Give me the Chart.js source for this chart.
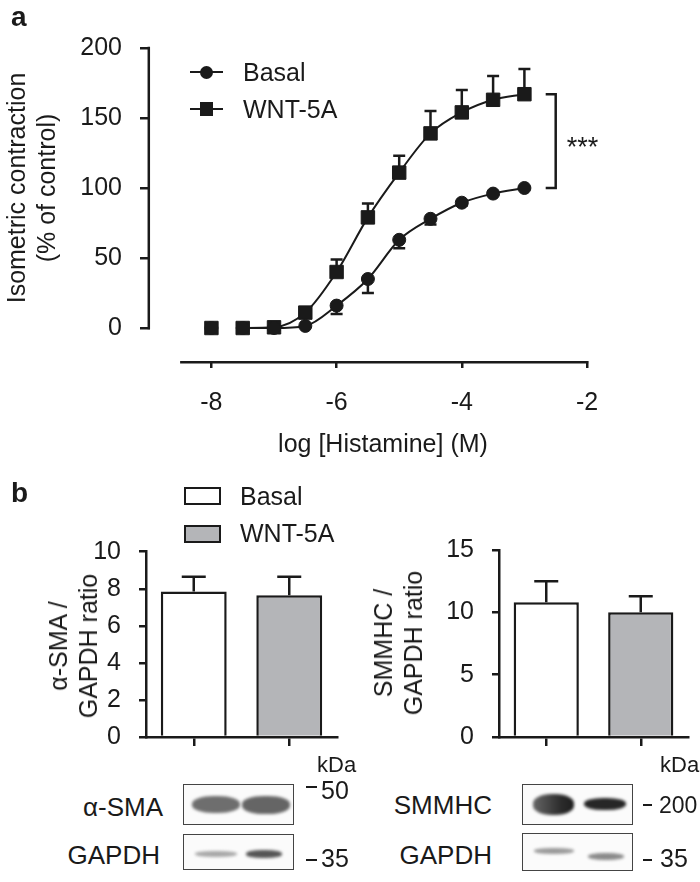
<!DOCTYPE html>
<html>
<head>
<meta charset="utf-8">
<script src="https://cdn.jsdelivr.net/npm/chart.js@4/dist/chart.umd.min.js"></script>
<style>
  body { margin: 0; background: #fff; }
  #page { position: relative; width: 700px; height: 882px; overflow: hidden;
          font-family: "Liberation Sans", Arial, sans-serif; color: #1a1a1a; }
  canvas { position: absolute; }
  .t { position: absolute; font-size: 25px; line-height: 30px; white-space: nowrap; }
  .s { position: absolute; font-size: 22px; line-height: 30px; white-space: nowrap; }
  .rot { position: absolute; font-size: 25px; line-height: 30px; white-space: nowrap; text-align: center;
         transform: translate(-50%, -50%) rotate(-90deg); }
  .bold { font-weight: bold; font-size: 28px; line-height: 28px; }
  .ln { position: absolute; background: #1a1a1a; }
  .box { position: absolute; box-sizing: border-box; border: 2.5px solid #1a1a1a; }
  .blot { position: absolute; box-sizing: border-box; border: 1.5px solid #444; background: #fbfbfb; overflow: hidden; }
  .band { position: absolute; border-radius: 45%; filter: blur(1.6px); }
  .lab { position: absolute; font-size: 26px; line-height: 30px; white-space: nowrap; text-align: right; }
</style>
</head>
<body>
<div id="page">
  <canvas id="curve" width="700" height="470" style="left:0;top:0"></canvas>
  <canvas id="smaBars" width="350" height="300" style="left:0;top:470px"></canvas>
  <canvas id="smmhcBars" width="350" height="300" style="left:350px;top:470px"></canvas>

  <!-- panel a -->
  <div class="t bold" style="left:11px;top:3px">a</div>
  <div class="ln" style="left:190px;top:70.8px;width:33px;height:2.5px"></div>
  <div style="position:absolute;left:200px;top:65.5px;width:13px;height:13px;border-radius:50%;background:#1a1a1a"></div>
  <div class="t" style="left:243px;top:57px">Basal</div>
  <div class="ln" style="left:190px;top:107.8px;width:33px;height:2.5px"></div>
  <div style="position:absolute;left:199.8px;top:102.3px;width:13.5px;height:13.5px;background:#1a1a1a"></div>
  <div class="t" style="left:243px;top:94px">WNT-5A</div>
  <div class="rot" style="left:31px;top:188px">Isometric contraction<br>(% of control)</div>
  <div class="t" style="left:383px;top:428px;transform:translateX(-50%)">log [Histamine] (M)</div>

  <!-- panel b -->
  <div class="t bold" style="left:11px;top:479px">b</div>
  <div class="box" style="left:184px;top:487px;width:37px;height:18px;background:#fff"></div>
  <div class="t" style="left:240px;top:481px">Basal</div>
  <div class="box" style="left:184px;top:525px;width:37px;height:18px;background:#b4b5b8"></div>
  <div class="t" style="left:240px;top:518px">WNT-5A</div>
  <div class="rot" style="left:73px;top:646px">α-SMA /<br>GAPDH ratio</div>
  <div class="rot" style="left:398px;top:643px">SMMHC /<br>GAPDH ratio</div>

  <!-- blots, left -->
  <div class="s" style="left:317px;top:750px">kDa</div>
  <div class="lab" style="right:537px;top:792px">α-SMA</div>
  <div class="lab" style="right:540px;top:840px">GAPDH</div>
  <div class="blot" style="left:183px;top:784px;width:111px;height:41px">
    <div class="band" style="left:8px;top:11px;width:48px;height:17px;background:#6e6e6e"></div>
    <div class="band" style="left:58px;top:11px;width:48px;height:18px;background:#656565"></div>
  </div>
  <div class="blot" style="left:183px;top:834px;width:111px;height:36px">
    <div class="band" style="left:11px;top:16px;width:42px;height:6px;background:#a8a8a8"></div>
    <div class="band" style="left:62px;top:15px;width:36px;height:8px;background:#555"></div>
  </div>
  <div class="ln" style="left:306px;top:786px;width:11px;height:2px"></div>
  <div class="t" style="left:321px;top:775px">50</div>
  <div class="ln" style="left:306px;top:859px;width:11px;height:2px"></div>
  <div class="t" style="left:321px;top:843px">35</div>

  <!-- blots, right -->
  <div class="s" style="left:660px;top:750px">kDa</div>
  <div class="lab" style="right:208px;top:790px">SMMHC</div>
  <div class="lab" style="right:208px;top:840px">GAPDH</div>
  <div class="blot" style="left:522px;top:784px;width:111px;height:41px">
    <div class="band" style="left:10px;top:9px;width:41px;height:21px;background:linear-gradient(90deg,#666,#2a2a2a 70%,#1e1e1e)"></div>
    <div class="band" style="left:61px;top:13px;width:42px;height:12px;background:#262626"></div>
  </div>
  <div class="blot" style="left:522px;top:833px;width:111px;height:38px">
    <div class="band" style="left:11px;top:14px;width:40px;height:6px;background:#9a9a9a"></div>
    <div class="band" style="left:65px;top:19px;width:36px;height:7px;background:#8a8a8a"></div>
  </div>
  <div class="ln" style="left:643px;top:804px;width:9px;height:2px"></div>
  <div class="t" style="left:659px;top:790px;font-size:23px">200</div>
  <div class="ln" style="left:643px;top:859px;width:9px;height:2px"></div>
  <div class="t" style="left:660px;top:843px">35</div>
</div>

<script>
// panel a: histamine concentration-response
const logHistamine = [-8, -7.5, -7, -6.5, -6, -5.5, -5, -4.5, -4, -3.5, -3];
const basalContraction = [0, 0, 0, 1.5, 16, 35, 63, 78, 89.5, 96, 100];
const basalSem = [0, 0, 0, 0, 6, 10, 6, 4, 2, 1, 1];
const wntContraction = [0, 0, 0.5, 11, 40, 79, 111, 139, 154, 163, 167];
const wntSem = [0, 0, 0, 3, 9, 10, 12, 16, 16, 17, 18];
const xTicks = [-8, -6, -4, -2];
const yTicks = [0, 50, 100, 150, 200];

// panel b: western blot quantification
const groups = ["Basal", "WNT-5A"];
const smaRatio = [7.85, 7.65];
const smaSem = [0.8, 1.0];
const smmhcRatio = [10.8, 10.0];
const smmhcSem = [1.7, 1.3];

const ink = "#1a1a1a";
const font = { family: "'Liberation Sans', Arial, sans-serif", size: 25 };
const yScaleWidth = 85;

function pts(ys) {
  return logHistamine.map((x, i) => ({ x: x, y: ys[i] }));
}

// error bars (one-sided, direction per dataset)
const errorBars = {
  id: "errorBars",
  beforeDatasetsDraw(chart, args, opts) { if (!opts.after) drawErrors(chart, opts); },
  afterDatasetsDraw(chart, args, opts) { if (opts.after) drawErrors(chart, opts); }
};
function drawErrors(chart, opts) {
  const ctx = chart.ctx;
  const y = chart.scales.y;
  ctx.save();
  ctx.strokeStyle = ink;
  ctx.lineWidth = 2.5;
  chart.data.datasets.forEach((ds, i) => {
    if (!ds.errors) return;
    const meta = chart.getDatasetMeta(i);
    meta.data.forEach((el, j) => {
      const err = ds.errors[j];
      if (!err) return;
      const v = typeof ds.data[j] === "object" ? ds.data[j].y : ds.data[j];
      const end = y.getPixelForValue(v + ds.errorDir * err);
      ctx.beginPath();
      ctx.moveTo(el.x, el.y);
      ctx.lineTo(el.x, end);
      ctx.moveTo(el.x - opts.cap / 2, end);
      ctx.lineTo(el.x + opts.cap / 2, end);
      ctx.stroke();
    });
  });
  ctx.restore();
}

// Prism-style detached axes, bracket and significance stars
const curveDecor = {
  id: "curveDecor",
  beforeDatasetsDraw(chart) {
    const { ctx, chartArea, scales: { x, y } } = chart;
    ctx.save();
    ctx.strokeStyle = ink;
    ctx.lineWidth = 2.5;
    ctx.beginPath();
    ctx.moveTo(chartArea.left - 1.2, y.getPixelForValue(200) - 1.2);
    ctx.lineTo(chartArea.left - 1.2, y.getPixelForValue(0) + 1.2);
    ctx.moveTo(x.getPixelForValue(-8.5), chartArea.bottom + 1.2);
    ctx.lineTo(x.getPixelForValue(-2) + 1.2, chartArea.bottom + 1.2);
    ctx.stroke();
    ctx.restore();
  },
  afterDatasetsDraw(chart) {
    const { ctx, scales: { x, y } } = chart;
    const n = logHistamine.length - 1;
    const xb = x.getPixelForValue(-2.5);
    const yTop = y.getPixelForValue(wntContraction[n]);
    const yBot = y.getPixelForValue(basalContraction[n]);
    ctx.save();
    ctx.strokeStyle = ink;
    ctx.lineWidth = 2.5;
    ctx.beginPath();
    ctx.moveTo(xb - 10, yTop);
    ctx.lineTo(xb, yTop);
    ctx.lineTo(xb, yBot);
    ctx.lineTo(xb - 10, yBot);
    ctx.stroke();
    ctx.fillStyle = ink;
    ctx.font = "27px 'Liberation Sans', Arial, sans-serif";
    ctx.textAlign = "left";
    ctx.textBaseline = "alphabetic";
    ctx.fillText("***", xb + 11, (yTop + yBot) / 2 + 15);
    ctx.restore();
  }
};

const tickGrid = (len) => ({ display: true, drawOnChartArea: false, drawTicks: true, tickLength: len, color: ink, lineWidth: 2.5 });

new Chart(document.getElementById("curve"), {
  type: "line",
  data: {
    datasets: [
      { label: "Basal", data: pts(basalContraction), showLine: false, pointStyle: "circle", pointRadius: 6.5,
        pointBackgroundColor: ink, pointBorderColor: ink, pointBorderWidth: 1, errors: basalSem, errorDir: -1 },
      { label: "WNT-5A", data: pts(wntContraction), showLine: false, pointStyle: "rect", pointRadius: 9.5,
        pointBackgroundColor: ink, pointBorderColor: ink, pointBorderWidth: 1, errors: wntSem, errorDir: 1 },
      { label: "Basal fit", data: pts(basalContraction).slice(1), pointRadius: 0, borderColor: ink, borderWidth: 2,
        cubicInterpolationMode: "monotone" },
      { label: "WNT-5A fit", data: pts(wntContraction).slice(1), pointRadius: 0, borderColor: ink, borderWidth: 2,
        cubicInterpolationMode: "monotone" }
    ]
  },
  options: {
    responsive: false,
    animation: false,
    layout: { padding: { left: 150 - yScaleWidth, right: 113, top: 48, bottom: 59 } },
    plugins: { legend: { display: false }, tooltip: { enabled: false }, errorBars: { cap: 12, after: false } },
    scales: {
      x: {
        type: "linear", min: -8.981, max: -2,
        afterBuildTicks: (s) => { s.ticks = xTicks.map(v => ({ value: v })); },
        afterFit: (s) => { s.height = 50; },
        ticks: { font: font, color: ink, padding: 20 },
        grid: tickGrid(7),
        border: { display: false }
      },
      y: {
        min: -23.57, max: 200,
        afterBuildTicks: (s) => { s.ticks = yTicks.map(v => ({ value: v })); },
        afterFit: (s) => { s.width = yScaleWidth; },
        ticks: { font: font, color: ink, padding: 18 },
        grid: tickGrid(10),
        border: { display: false }
      }
    }
  },
  plugins: [errorBars, curveDecor]
});

function barChart(id, values, sem, yMax, step, area) {
  new Chart(document.getElementById(id), {
    type: "bar",
    data: {
      labels: groups,
      datasets: [{
        data: values, errors: sem, errorDir: 1,
        backgroundColor: ["#ffffff", "#b4b5b8"], borderColor: ink, borderWidth: 2.5,
        barPercentage: 0.69, categoryPercentage: 1
      }]
    },
    options: {
      responsive: false,
      animation: false,
      layout: { padding: { left: area.left - yScaleWidth, right: 350 - area.right, top: area.top, bottom: 300 - area.bottom - 30 } },
      plugins: { legend: { display: false }, tooltip: { enabled: false }, errorBars: { cap: 24, after: true } },
      scales: {
        x: {
          offset: true,
          afterFit: (s) => { s.height = 30; },
          ticks: { display: false },
          grid: Object.assign(tickGrid(9), { offset: false }),
          border: { display: true, color: ink, width: 2.5 }
        },
        y: {
          min: 0, max: yMax,
          afterFit: (s) => { s.width = yScaleWidth; },
          ticks: { stepSize: step, font: font, color: ink, padding: 18 },
          grid: tickGrid(7),
          border: { display: true, color: ink, width: 2.5 }
        }
      }
    },
    plugins: [errorBars]
  });
}

barChart("smaBars", smaRatio, smaSem, 10, 2, { left: 146, right: 337, top: 81.7, bottom: 269.3 });
barChart("smmhcBars", smmhcRatio, smmhcSem, 15, 5, { left: 149, right: 338, top: 80, bottom: 267.3 });
</script>
</body>
</html>
